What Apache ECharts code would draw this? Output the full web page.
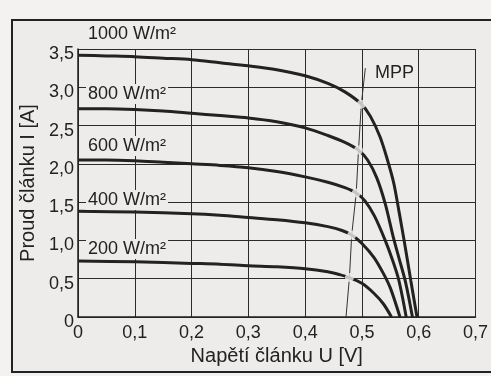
<!DOCTYPE html>
<html>
<head>
<meta charset="utf-8">
<script src="https://cdn.jsdelivr.net/npm/echarts@6/dist/echarts.min.js"></script>
<style>
  html, body { margin: 0; padding: 0; background: #f3f2f0; }
  #chart { width: 491px; height: 376px; }
</style>
</head>
<body>
<div id="chart"></div>
<script>
// I-U curves of a solar cell, [U in V, I in A]
const curve1000 = [[0, 3.42], [0.05, 3.41], [0.1, 3.40], [0.15, 3.38], [0.2, 3.36], [0.25, 3.32], [0.3, 3.28], [0.35, 3.23], [0.4, 3.15], [0.44, 3.05], [0.47, 2.94], [0.499, 2.78], [0.515, 2.62], [0.532, 2.35], [0.545, 2.05], [0.556, 1.75], [0.566, 1.35], [0.575, 0.97], [0.586, 0.48], [0.597, 0]];
const curve800 = [[0, 2.72], [0.05, 2.72], [0.1, 2.71], [0.15, 2.69], [0.2, 2.66], [0.25, 2.63], [0.3, 2.60], [0.35, 2.55], [0.4, 2.47], [0.44, 2.37], [0.47, 2.28], [0.494, 2.18], [0.51, 2.05], [0.526, 1.82], [0.541, 1.48], [0.555, 1.05], [0.566, 0.75], [0.577, 0.45], [0.589, 0]];
const curve600 = [[0, 2.05], [0.05, 2.05], [0.1, 2.04], [0.15, 2.02], [0.2, 2.0], [0.25, 1.98], [0.3, 1.95], [0.35, 1.90], [0.4, 1.83], [0.44, 1.76], [0.47, 1.69], [0.49, 1.62], [0.505, 1.52], [0.522, 1.32], [0.541, 1.0], [0.554, 0.74], [0.565, 0.48], [0.578, 0]];
const curve400 = [[0, 1.38], [0.1, 1.37], [0.2, 1.35], [0.25, 1.33], [0.3, 1.30], [0.35, 1.27], [0.4, 1.23], [0.44, 1.18], [0.465, 1.13], [0.482, 1.07], [0.5, 0.96], [0.521, 0.78], [0.537, 0.58], [0.55, 0.38], [0.567, 0]];
const curve200 = [[0, 0.73], [0.1, 0.72], [0.2, 0.70], [0.25, 0.69], [0.3, 0.67], [0.35, 0.655], [0.4, 0.63], [0.44, 0.59], [0.46, 0.555], [0.478, 0.515], [0.5, 0.44], [0.521, 0.31], [0.538, 0.17], [0.552, 0]];

// maximum power points and the line through them
const mppU = [0.472, 0.478, 0.482, 0.49, 0.494, 0.499, 0.506];
const mppI = [0, 0.515, 1.07, 1.62, 2.18, 2.78, 3.25];
const mppPoints = [[0.478, 0.515], [0.482, 1.07], [0.49, 1.62], [0.494, 2.18], [0.499, 2.78]];

const curveLabels = ['1000 W/m²', '800 W/m²', '600 W/m²', '400 W/m²', '200 W/m²'];
const labelY = [34, 94, 146, 200, 249];

const paper = '#edecea';
const ink = '#222';
const fontFam = '"Liberation Sans", Arial, sans-serif';

let chart = echarts.init(document.getElementById('chart'));

function fmt(v) {
  if (v === 0) return '0';
  return v.toFixed(1).replace('.', ',');
}

function curveSeries(data) {
  return {
    type: 'line',
    data: data,
    showSymbol: false,
    smooth: 0.3,
    lineStyle: { color: ink, width: 3 },
    z: 3,
  };
}

let graphics = [
  {
    type: 'rect',
    shape: { x: 12, y: 20, width: 500, height: 352 },
    style: { fill: paper, stroke: ink, lineWidth: 2 },
    z: -10,
  },
  {
    type: 'text',
    style: { text: 'MPP', x: 375, y: 73, font: '18px ' + fontFam, fill: ink, verticalAlign: 'middle' },
    z: 100,
  },
];
curveLabels.forEach((t, k) => {
  graphics.push({
    type: 'text',
    style: {
      text: t, x: 86, y: labelY[k], font: '18px ' + fontFam, fill: ink,
      verticalAlign: 'middle', backgroundColor: paper, padding: [1, 2],
    },
    z: 100,
  });
});

let option = {
  backgroundColor: '#f3f2f0',
  animation: false,
  grid: { left: 78, top: 49, width: 406, height: 268 },
  xAxis: {
    type: 'value',
    min: 0, max: 0.7, interval: 0.1,
    name: 'Napětí článku U [V]',
    nameLocation: 'middle',
    nameGap: 29,
    nameTextStyle: { fontSize: 20, color: ink, fontFamily: fontFam },
    axisLine: { lineStyle: { color: ink, width: 1.5 } },
    axisTick: { show: false },
    axisLabel: { formatter: fmt, fontSize: 18, color: ink, fontFamily: fontFam, margin: 7 },
    splitLine: { lineStyle: { color: '#2b2b2b', width: 1 } },
  },
  yAxis: {
    type: 'value',
    min: 0, max: 3.5, interval: 0.5,
    name: 'Proud článku I [A]',
    nameLocation: 'middle',
    nameGap: 40,
    nameTextStyle: { fontSize: 20, color: ink, fontFamily: fontFam },
    axisLine: { show: true, lineStyle: { color: ink, width: 1.5 } },
    axisTick: { show: false },
    axisLabel: { formatter: fmt, fontSize: 18, color: ink, fontFamily: fontFam, margin: 4, verticalAlign: 'top', lineHeight: 10 },
    splitLine: { lineStyle: { color: '#2b2b2b', width: 1 } },
  },
  series: [
    curveSeries(curve1000),
    curveSeries(curve800),
    curveSeries(curve600),
    curveSeries(curve400),
    curveSeries(curve200),
    {
      type: 'line',
      data: mppU.map((u, k) => [u, mppI[k]]),
      showSymbol: false,
      lineStyle: { color: '#333', width: 1 },
      z: 2,
    },
    {
      // gaps around the maximum power points
      type: 'scatter',
      data: mppPoints,
      symbolSize: 9,
      itemStyle: { color: paper },
      z: 5,
    },
  ],
  graphic: graphics,
};

chart.setOption(option);
</script>
</body>
</html>
